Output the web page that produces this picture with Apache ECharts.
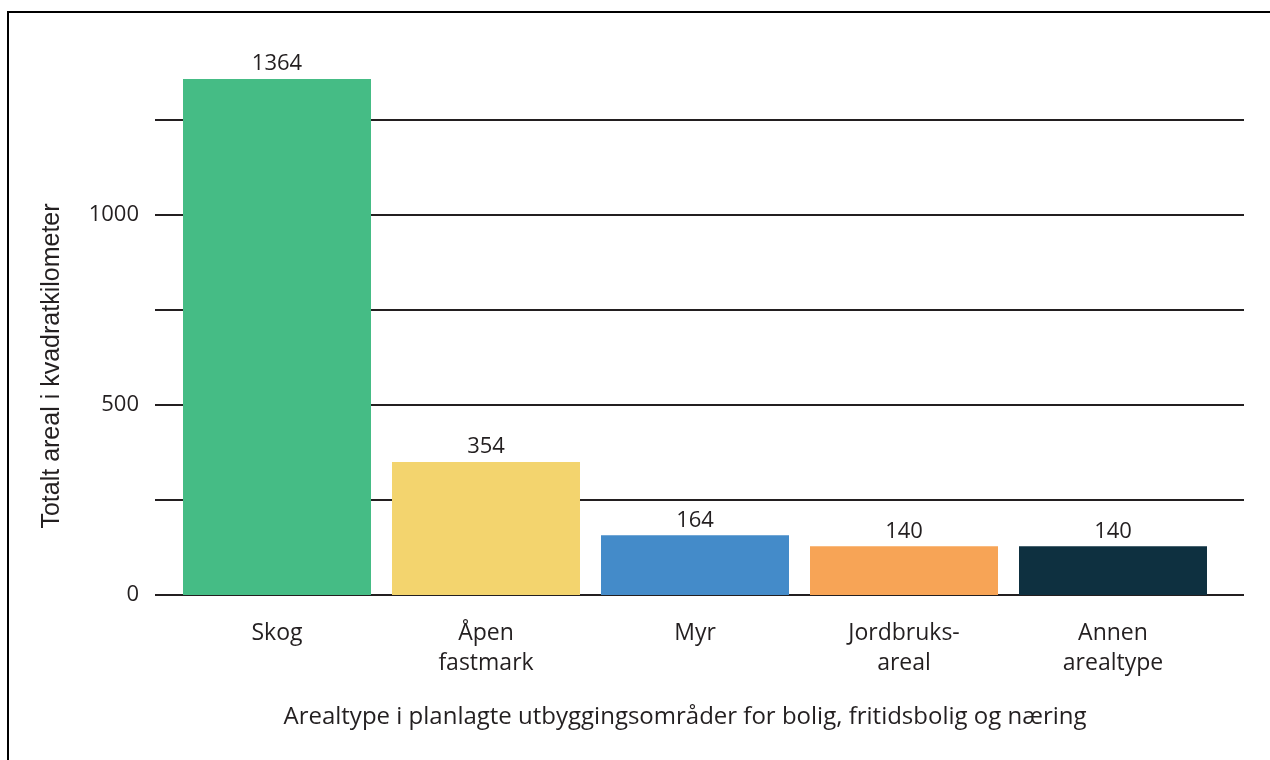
<!DOCTYPE html>
<html>
<head>
<meta charset="utf-8">
<title>Arealtype i planlagte utbyggingsområder</title>
<script src="https://cdn.jsdelivr.net/npm/echarts@6/dist/echarts.min.js"></script>
<style>
    html, body { margin: 0; padding: 0; background: #fff; }
    #chart { width: 1270px; height: 760px; }
</style>
</head>
<body>
<div id="chart"></div>
<script>
// kategorier langs x-aksen
var categories = ['Skog', 'Åpen\nfastmark', 'Myr', 'Jordbruks-\nareal', 'Annen\narealtype'];
// høyde på søylene slik de er tegnet
var barValues = [1358, 350, 157, 128, 128];
// tallene som står over søylene
var barLabels = ['1364', '354', '164', '140', '140'];
var barColors = ['#45bc85', '#f3d46e', '#448bc9', '#f7a456', '#0e3040'];
// y-akse
var yTicks = [0, 500, 1000];
var yMin = 0, yMax = 1250, yStep = 250;

var textColor = '#231f20';
var tickFont = '"Open Sans", "Noto Sans", sans-serif';

var chart = echarts.init(document.getElementById('chart'));

var barData = barValues.map(function (v, i) {
    return { value: v, itemStyle: { color: barColors[i] } };
});

var option = {
    backgroundColor: '#fff',
    animation: false,
    grid: [
        // bred grid for rutenettet
        { left: 155, right: 26, top: 120, bottom: 165 },
        // smalere grid for søylene
        { left: 172.5, right: 52.5, top: 120, bottom: 165 }
    ],
    xAxis: [
        { gridIndex: 0, type: 'value', show: false, min: 0, max: 1 },
        {
            gridIndex: 1,
            type: 'category',
            data: categories,
            axisLine: { show: false },
            axisTick: { show: false },
            axisLabel: {
                margin: 23,
                color: textColor,
                fontFamily: tickFont,
                fontSize: 23,
                lineHeight: 30
            }
        }
    ],
    yAxis: [
        {
            gridIndex: 0,
            type: 'value',
            min: yMin,
            max: yMax,
            interval: yStep,
            axisLine: { show: false },
            axisTick: { show: false },
            axisLabel: {
                margin: 16,
                color: textColor,
                fontFamily: tickFont,
                fontSize: 22,
                formatter: function (v) {
                    return yTicks.indexOf(v) >= 0 ? String(v) : '';
                }
            },
            splitLine: { lineStyle: { color: textColor, width: 2 } }
        },
        {
            gridIndex: 1,
            type: 'value',
            min: yMin,
            max: yMax,
            interval: yStep,
            show: false
        }
    ],
    series: [
        {
            type: 'bar',
            xAxisIndex: 1,
            yAxisIndex: 1,
            data: barData,
            barWidth: 188,
            clip: false,
            z: 5,
            label: {
                show: true,
                position: 'top',
                distance: 4,
                color: textColor,
                fontFamily: tickFont,
                fontSize: 22,
                formatter: function (p) {
                    return barLabels[p.dataIndex];
                }
            }
        }
    ],
    graphic: [
        // ramme rundt figuren
        {
            type: 'rect',
            shape: { x: 8, y: 12, width: 1300, height: 800 },
            style: { fill: 'none', stroke: '#000', lineWidth: 2 },
            silent: true
        },
        {
            type: 'text',
            x: 52,
            y: 366,
            rotation: Math.PI / 2,
            style: {
                text: 'Totalt areal i kvadratkilometer',
                fill: textColor,
                font: '25px "Liberation Sans", Arial, sans-serif',
                align: 'center',
                verticalAlign: 'middle'
            }
        },
        {
            type: 'text',
            x: 685,
            y: 717,
            style: {
                text: 'Arealtype i planlagte utbyggingsområder for bolig, fritidsbolig og næring',
                fill: textColor,
                font: '24px "Open Sans", "Noto Sans", sans-serif',
                align: 'center',
                verticalAlign: 'middle'
            }
        }
    ]
};

chart.setOption(option);
</script>
</body>
</html>
